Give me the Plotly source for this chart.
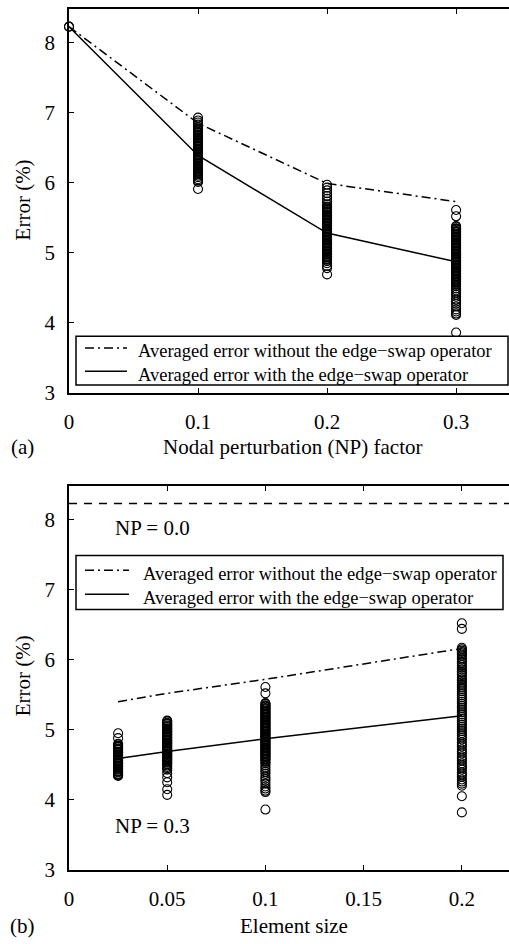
import plotly.graph_objects as go

# ---------------- data ----------------
np_factor = [0, 0.1, 0.2, 0.3]
avg_without_np = [8.23, 6.85, 5.99, 5.73]
avg_with_np = [8.23, 6.39, 5.28, 4.87]

err_np00 = [8.23, 8.23]
err_np01 = [6.93, 6.89, 6.86, 6.83, 6.80, 6.79, 6.77, 6.76, 6.75, 6.73, 6.72, 6.71,
            6.69, 6.68, 6.67, 6.65, 6.64, 6.63, 6.61, 6.60, 6.59, 6.57, 6.56, 6.55,
            6.53, 6.52, 6.51, 6.49, 6.48, 6.47, 6.45, 6.44, 6.43, 6.41, 6.40, 6.39,
            6.37, 6.36, 6.35, 6.33, 6.32, 6.31, 6.29, 6.28, 6.27, 6.25, 6.24, 6.23,
            6.21, 6.20, 6.19, 6.17, 6.16, 6.14, 6.12, 6.10, 6.08, 6.05, 6.03, 6.01,
            5.91]
err_np02 = [5.97, 5.93, 5.89, 5.85, 5.81, 5.77, 5.73, 5.69, 5.66, 5.65, 5.63, 5.62,
            5.61, 5.59, 5.58, 5.57, 5.55, 5.54, 5.53, 5.51, 5.50, 5.49, 5.47, 5.46,
            5.45, 5.43, 5.42, 5.41, 5.39, 5.38, 5.37, 5.35, 5.34, 5.33, 5.31, 5.30,
            5.29, 5.27, 5.26, 5.25, 5.23, 5.22, 5.21, 5.19, 5.18, 5.17, 5.15, 5.14,
            5.13, 5.11, 5.10, 5.09, 5.07, 5.06, 5.05, 5.03, 5.02, 5.01, 4.99, 4.98,
            4.97, 4.95, 4.94, 4.93, 4.91, 4.90, 4.88, 4.85, 4.81, 4.78, 4.69]
err_np03 = [5.61, 5.52, 5.38, 5.37, 5.35, 5.34, 5.33, 5.31, 5.30, 5.29, 5.27, 5.26,
            5.25, 5.23, 5.22, 5.21, 5.19, 5.18, 5.17, 5.15, 5.14, 5.13, 5.11, 5.10,
            5.09, 5.07, 5.06, 5.05, 5.03, 5.02, 5.01, 4.99, 4.98, 4.97, 4.95, 4.94,
            4.93, 4.91, 4.90, 4.89, 4.87, 4.86, 4.85, 4.83, 4.82, 4.81, 4.79, 4.78,
            4.77, 4.75, 4.74, 4.73, 4.71, 4.70, 4.69, 4.67, 4.66, 4.65, 4.63, 4.62,
            4.61, 4.59, 4.58, 4.56, 4.54, 4.52, 4.49, 4.46, 4.43, 4.40, 4.37, 4.33,
            4.30, 4.27, 4.23, 4.19, 4.16, 4.13, 4.11, 3.86]

elem_size = [0.025, 0.05, 0.1, 0.2]
avg_without_es = [5.40, 5.52, 5.72, 6.16]
avg_with_es = [4.59, 4.69, 4.87, 5.20]
np0_size = [0, 0.25]
np0_error = [8.23, 8.23]

err_es0025 = [4.95, 4.88, 4.80, 4.79, 4.77, 4.76, 4.75, 4.73, 4.72, 4.71, 4.69, 4.68,
              4.67, 4.65, 4.64, 4.63, 4.61, 4.60, 4.59, 4.57, 4.56, 4.55, 4.53, 4.52,
              4.51, 4.49, 4.48, 4.47, 4.45, 4.44, 4.43, 4.41, 4.40, 4.39, 4.37, 4.36,
              4.35, 4.34]
err_es005 = [5.13, 5.12, 5.10, 5.09, 5.08, 5.06, 5.05, 5.04, 5.02, 5.01, 5.00, 4.98,
             4.97, 4.96, 4.94, 4.93, 4.92, 4.90, 4.89, 4.88, 4.86, 4.85, 4.84, 4.82,
             4.81, 4.80, 4.78, 4.77, 4.76, 4.74, 4.73, 4.72, 4.70, 4.69, 4.68, 4.66,
             4.65, 4.64, 4.62, 4.61, 4.60, 4.58, 4.57, 4.56, 4.54, 4.53, 4.51, 4.49,
             4.47, 4.45, 4.43, 4.38, 4.32, 4.25, 4.15, 4.07]
err_es01 = err_np03
err_es02 = [6.52, 6.44, 6.17, 6.15, 6.13, 6.11, 6.09, 6.07, 6.05, 6.02, 6.00, 5.97,
            5.95, 5.92, 5.89, 5.86, 5.83, 5.81, 5.78, 5.75, 5.72, 5.70, 5.67, 5.64,
            5.61, 5.58, 5.55, 5.52, 5.49, 5.46, 5.43, 5.40, 5.37, 5.34, 5.31, 5.28,
            5.25, 5.22, 5.19, 5.16, 5.13, 5.10, 5.07, 5.04, 5.01, 4.98, 4.95, 4.92,
            4.89, 4.86, 4.82, 4.79, 4.76, 4.72, 4.69, 4.66, 4.62, 4.59, 4.56, 4.52,
            4.49, 4.46, 4.43, 4.39, 4.36, 4.33, 4.29, 4.26, 4.23, 4.20, 4.05, 3.82]

y_ticks = [3, 4, 5, 6, 7, 8]
np_ticks = [0, 0.1, 0.2, 0.3]
np_ticktext = ["0", "0.1", "0.2", "0.3"]
es_ticks = [0, 0.05, 0.1, 0.15, 0.2]
es_ticktext = ["0", "0.05", "0.1", "0.15", "0.2"]

label_without = "Averaged error without the edge\u2212swap operator"
label_with = "Averaged error with the edge\u2212swap operator"

# ---------------- layout helpers ----------------
W, H = 509, 944
L = 69
FONT = "Liberation Serif"
DASHDOT = "9px,4px,2px,4px"


def px(x):
    return (x - L) / (W - L)


def py(y):
    return 1 - y / H


fig = go.Figure()

marker = dict(symbol="circle-open", size=9, color="black", line=dict(width=1.1, color="black"))

# top panel circles
for xv, vals in zip(np_factor, [err_np00, err_np01, err_np02, err_np03]):
    fig.add_trace(go.Scatter(x=[xv] * len(vals), y=vals, mode="markers", marker=marker,
                             xaxis="x", yaxis="y", showlegend=False, cliponaxis=False))
fig.add_trace(go.Scatter(x=np_factor, y=avg_without_np, mode="lines", name=label_without,
                         line=dict(color="black", width=1.5, dash=DASHDOT),
                         xaxis="x", yaxis="y", showlegend=False))
fig.add_trace(go.Scatter(x=np_factor, y=avg_with_np, mode="lines", name=label_with,
                         line=dict(color="black", width=1.5),
                         xaxis="x", yaxis="y", showlegend=False))

# bottom panel circles
for xv, vals in zip(elem_size, [err_es0025, err_es005, err_es01, err_es02]):
    fig.add_trace(go.Scatter(x=[xv] * len(vals), y=vals, mode="markers", marker=marker,
                             xaxis="x2", yaxis="y2", showlegend=False, cliponaxis=False))
fig.add_trace(go.Scatter(x=np0_size, y=np0_error, mode="lines", name="NP = 0.0",
                         line=dict(color="black", width=1.5, dash="8px,7px"),
                         xaxis="x2", yaxis="y2", showlegend=False))
fig.add_trace(go.Scatter(x=elem_size, y=avg_without_es, mode="lines", name=label_without,
                         line=dict(color="black", width=1.5, dash=DASHDOT),
                         xaxis="x2", yaxis="y2", showlegend=False))
fig.add_trace(go.Scatter(x=elem_size, y=avg_with_es, mode="lines", name=label_with,
                         line=dict(color="black", width=1.5),
                         xaxis="x2", yaxis="y2", showlegend=False))

axis_common = dict(showgrid=False, zeroline=False, showline=True, linecolor="black",
                   linewidth=1.5, ticks="inside", ticklen=5, tickwidth=1, tickcolor="black",
                   tickfont=dict(family=FONT, size=21, color="black"))

fig.update_layout(
    width=W, height=H,
    margin=dict(l=L, r=0, t=0, b=0),
    paper_bgcolor="white", plot_bgcolor="white",
    font=dict(family=FONT, size=21, color="black"),
    showlegend=False,
    xaxis=dict(domain=[0, 1], anchor="y", range=[0, 0.341], tickvals=np_ticks,
               ticktext=np_ticktext, mirror="ticks", ticklabelstandoff=9, **axis_common),
    yaxis=dict(domain=[py(397.7), py(9.3)], anchor="x", range=[3, 8.48], tickvals=y_ticks,
               mirror=False, ticklabelstandoff=8, **axis_common),
    xaxis2=dict(domain=[0, 1], anchor="y2", range=[0, 0.224], tickvals=es_ticks,
                ticktext=es_ticktext, mirror="ticks", ticklabelstandoff=9, **axis_common),
    yaxis2=dict(domain=[py(881), py(492.3)], anchor="x2", range=[3, 8.48], tickvals=y_ticks,
                mirror=False, ticklabelstandoff=8, **axis_common),
)

ann = []
shapes = []
DY = 6  # glyph-centre correction for annotation boxes


def text(x, y, s, size=21, xanchor="center", angle=0, dy=DY):
    ann.append(dict(x=px(x), y=py(y + dy), xref="paper", yref="paper", text=s, showarrow=False,
                    xanchor=xanchor, yanchor="middle", textangle=angle,
                    font=dict(family=FONT, size=size, color="black")))


text(23, 203, "Error (%)", angle=-90, dy=0)
text(23, 685, "Error (%)", angle=-90, dy=0)
text(293, 447, "Nodal perturbation (NP) factor")
text(294, 932, "Element size")
text(22, 447, "(a)")
text(22, 932, "(b)")
text(113, 529, "NP = 0.0", xanchor="left")
text(113, 831, "NP = 0.3", xanchor="left")


def legend_box(x0, y0, x1, y1, rows, text_x, sample_x0, sample_x1):
    shapes.append(dict(type="rect", xref="paper", yref="paper", x0=px(x0), x1=px(x1),
                       y0=py(y0), y1=py(y1), line=dict(color="black", width=1.5),
                       fillcolor="white", layer="above"))
    for (ty, dash, label) in rows:
        shapes.append(dict(type="line", xref="paper", yref="paper", x0=px(sample_x0),
                           x1=px(sample_x1), y0=py(ty), y1=py(ty), layer="above",
                           line=dict(color="black", width=1.5, dash=dash)))
        text(text_x, ty, label, size=18.5, xanchor="left", dy=3.5)


legend_box(76, 340.7, 508, 390,
           [(352.5, DASHDOT, label_without), (376.0, "solid", label_with)],
           136, 85, 127)
legend_box(76, 562.7, 503, 617.3,
           [(577.5, DASHDOT, label_without), (602.0, "solid", label_with)],
           141, 85, 129)

fig.update_layout(annotations=ann, shapes=shapes)

fig.write_html("out.html")
